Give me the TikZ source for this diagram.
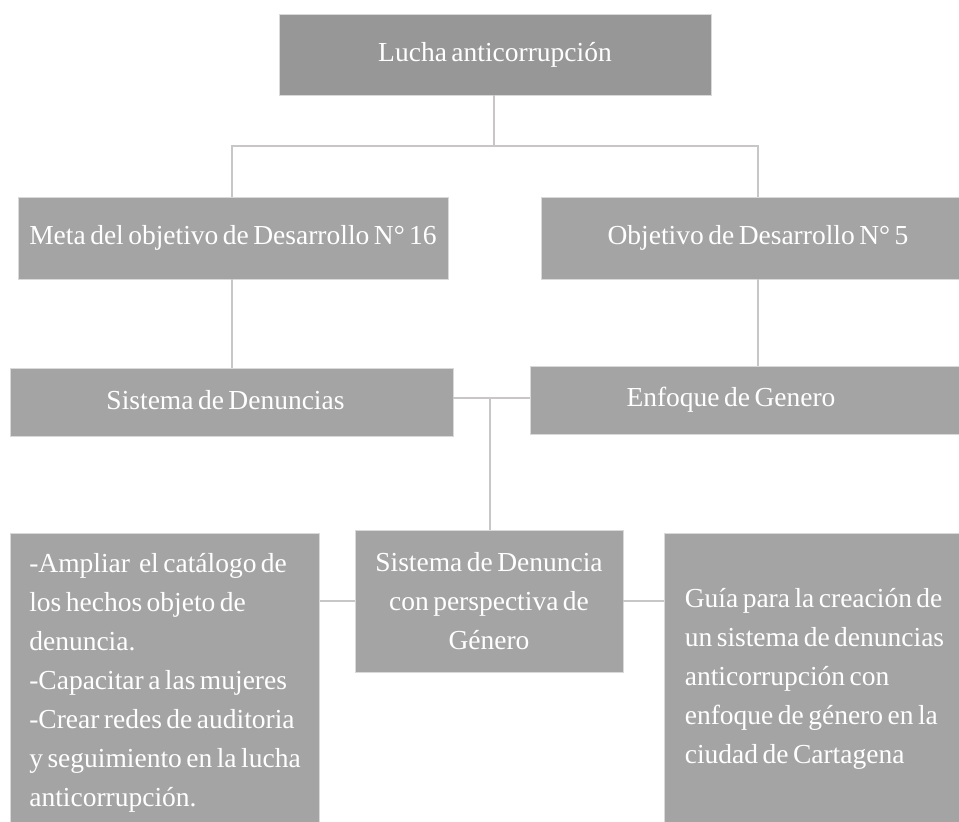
\documentclass[tikz,border=0pt]{standalone}
\usepackage{fontspec}
\setmainfont[WordSpace=0.65]{Liberation Serif}
\begin{document}
\begin{tikzpicture}[x=1pt,y=-1pt,
  box/.style={draw=black!15, line width=0.8pt, fill=boxgray, text=white, inner sep=0pt,
    font=\fontsize{27.5}{39}\selectfont},
  topbox/.style={box, fill=topgray},
  link/.style={draw=linegray, line width=1.5pt}]
\definecolor{boxgray}{HTML}{A4A4A4}
\definecolor{topgray}{HTML}{979797}
\definecolor{linegray}{HTML}{C8C6C7}
\useasboundingbox (0,0) rectangle (959,822);
\clip (0,0) rectangle (959,822);
\fill[white] (0,0) rectangle (959,822);

\node[topbox, minimum width=432pt, minimum height=81pt] (top) at (495,54.5) {Lucha anticorrupción};
\node[box, minimum width=430pt, minimum height=82pt] (meta) at (233,238) {Meta del objetivo de Desarrollo N° 16};
\node[box, minimum width=434pt, minimum height=82pt] (obj) at (758,238) {Objetivo de Desarrollo N° 5};
\node[box, minimum width=443pt, minimum height=68pt] (sd) at (231.5,402) {\raisebox{5pt}{Sistema de Denuncias}\hspace*{12pt}};
\node[box, minimum width=432pt, minimum height=68pt] (enf) at (746,400) {\raisebox{4pt}{Enfoque de Genero}\hspace*{30pt}};
\node[box, minimum width=268pt, minimum height=142pt, align=center] (cen) at (489,601)
  {Sistema de Denuncia\\con perspectiva de\\Género};
\node[box, minimum width=309pt, minimum height=300pt, align=left] (lb) at (165,683)
  {-Ampliar\ \ el catálogo de\\los hechos objeto de\\denuncia.\\-Capacitar a las mujeres\\-Crear redes de auditoria\\y seguimiento en la lucha\\anticorrupción.};
\node[box, minimum width=301pt, minimum height=292pt, align=left] (rb) at (814.5,679)
  {Guía para la creación de\\un sistema de denuncias\hspace*{10pt}\\anticorrupción con\\enfoque de género en la\\ciudad de Cartagena};

\coordinate (j1) at (494,146);
\draw[link] (top.south -| j1) -- (j1);
\draw[link] (meta.north -| 232,0) |- (j1) -| (obj.north);
\draw[link] (meta.south -| 232,0) -- (sd.north -| 232,0);
\draw[link] (obj.south) -- (obj.south |- enf.north);
\draw[link] (sd.east |- 0,398) -- (enf.west |- 0,398);
\coordinate (j2) at (490,398);
\draw[link] (j2) -- (cen.north -| j2);
\draw[link] (lb.east |- cen.west) -- (cen.west);
\draw[link] (cen.east) -- (cen.east -| rb.west);
\end{tikzpicture}
\end{document}
